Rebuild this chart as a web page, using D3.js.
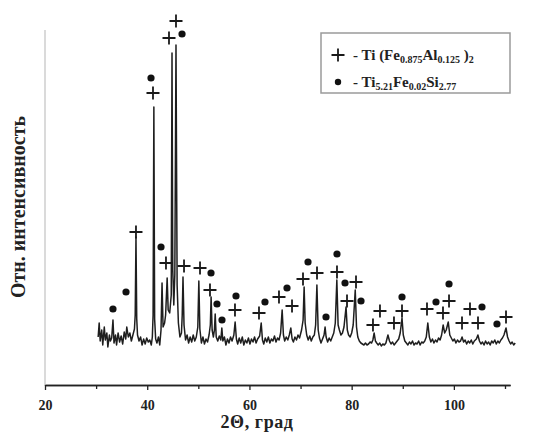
<!DOCTYPE html>
<html><head><meta charset="utf-8">
<script src="https://cdn.jsdelivr.net/npm/d3@7/dist/d3.min.js"></script>
<style>body{margin:0;background:#fff}</style>
</head><body>
<svg id="c" width="534" height="443"></svg>
<script>
// XRD scan: [2θ, intensity (arb. units)]
const scan = [
[30.4,48],[30.6,62],[30.8,44],[31.1,55],[31.3,40],[31.6,58],[31.8,45],[32.1,52],[32.3,38],[32.6,50],[32.8,44],[33.05,47],
[33.3,65],[33.5,42],[33.8,50],[34.0,40],[34.3,52],[34.6,43],[34.9,49],[35.2,41],[35.5,53],[35.8,46],[36.0,58],[36.3,48],
[36.6,52],[36.9,44],[37.2,50],[37.5,56],[37.65,70],[37.8,148],[37.95,66],[38.1,50],[38.4,44],[38.7,48],[39.0,40],[39.3,46],
[39.6,41],[39.9,47],[40.2,43],[40.5,45],[40.8,40],[41.0,48],[41.15,70],[41.3,278],[41.45,66],[41.65,46],[41.9,42],[42.2,48],
[42.45,40],[42.7,55],[42.9,102],[43.1,58],[43.4,62],[43.6,70],[43.9,107],[44.1,75],[44.4,72],[44.7,90],[44.85,332],[45.0,115],
[45.2,80],[45.4,110],[45.63,340],[45.85,100],[46.1,62],[46.4,48],[46.7,52],[46.85,70],[47.0,108],[47.2,60],[47.5,45],[47.8,50],
[48.1,42],[48.4,48],[48.7,43],[49.0,50],[49.3,44],[49.6,48],[49.9,58],[50.1,104],[50.3,56],[50.6,42],[50.9,48],[51.2,41],
[51.5,46],[51.8,43],[52.1,50],[52.35,60],[52.5,88],[52.7,55],[52.95,48],[53.15,55],[53.3,71],[53.5,48],[53.8,44],[54.1,49],
[54.4,45],[54.6,57],[54.8,44],[55.1,48],[55.4,40],[55.7,46],[56.0,42],[56.3,48],[56.6,44],[56.95,50],[57.2,63],[57.45,46],
[57.7,41],[58.0,47],[58.3,42],[58.6,48],[58.9,40],[59.2,45],[59.5,42],[59.8,47],[60.1,41],[60.4,46],[60.7,43],[61.0,48],
[61.3,42],[61.6,46],[62.0,49],[62.3,62],[62.55,45],[62.8,41],[63.1,47],[63.4,43],[63.7,48],[64.0,42],[64.3,46],[64.6,44],
[64.9,49],[65.2,43],[65.5,47],[65.8,45],[66.1,52],[66.4,75],[66.65,50],[66.9,44],[67.2,48],[67.5,45],[67.8,50],[68.1,57],
[68.35,46],[68.6,43],[68.9,48],[69.2,45],[69.5,50],[69.8,47],[70.2,55],[70.5,65],[70.7,98],[70.9,62],[71.2,50],[71.5,45],
[71.8,49],[72.1,44],[72.4,48],[72.7,50],[72.95,60],[73.2,100],[73.45,55],[73.7,47],[74.0,42],[74.3,46],[74.6,50],[74.8,58],
[75.0,48],[75.3,43],[75.6,47],[75.9,44],[76.2,48],[76.5,52],[76.8,62],[77.1,105],[77.35,60],[77.6,55],[77.9,50],[78.2,52],
[78.5,58],[78.9,78],[79.15,55],[79.4,50],[79.7,48],[80.0,52],[80.3,60],[80.7,95],[80.95,58],[81.2,48],[81.5,44],[81.8,42],
[82.1,41],[82.4,40],[82.7,42],[83.0,40],[83.3,41],[83.6,43],[83.9,42],[84.15,45],[84.4,52],[84.65,44],[84.9,42],[85.2,40],
[85.5,42],[85.8,39],[86.1,41],[86.4,40],[86.7,42],[87.1,50],[87.4,44],[87.7,41],[88.0,43],[88.3,40],[88.6,42],[88.9,44],
[89.2,46],[89.5,52],[89.85,67],[90.1,50],[90.4,44],[90.7,42],[91.0,40],[91.3,43],[91.6,41],[91.9,44],[92.2,40],[92.5,42],
[92.8,41],[93.1,44],[93.4,40],[93.7,43],[94.0,42],[94.3,44],[94.6,48],[94.9,62],[95.2,48],[95.5,43],[95.8,46],[96.1,42],
[96.4,45],[96.7,43],[97.0,47],[97.3,45],[97.6,50],[97.9,60],[98.2,52],[98.5,55],[98.9,63],[99.2,50],[99.5,47],[99.8,44],
[100.1,46],[100.4,42],[100.7,45],[101.0,43],[101.3,44],[101.6,48],[101.9,43],[102.2,45],[102.5,41],[102.8,44],[103.1,42],
[103.4,45],[103.7,41],[104.0,44],[104.4,46],[104.7,50],[105.0,44],[105.3,41],[105.6,43],[105.9,40],[106.2,44],[106.5,41],
[106.8,43],[107.1,40],[107.4,44],[107.7,42],[108.0,45],[108.3,41],[108.6,44],[108.9,42],[109.2,45],[109.5,47],[109.8,50],
[110.2,57],[110.5,48],[110.8,44],[111.1,41],[111.4,43],[111.7,40],[112.0,42]
];
// phase markers: Ti(Fe0.875Al0.125)2 (+) and Ti5.21Fe0.02Si2.77 (•)
const plusMarks = [
[37.80,153],[41.13,292],[43.67,122],[44.26,347],[45.63,364],[47.20,119],[50.33,117],[52.28,95],[57.17,75],[61.87,72],
[65.78,88],[68.33,79],[70.48,106],[73.22,112],[77.13,113],[79.09,84],[80.85,103],[84.17,60],[85.54,74],[88.28,62],
[89.85,74],[94.74,76],[97.87,72],[99.05,84],[101.59,62],[103.15,76],[104.72,62],[110.20,68]
];
const dotMarks = [
[33.30,76],[35.85,93],[40.74,307],[46.81,351],[42.70,138],[52.48,112],[53.65,81],[54.63,65],[57.37,89],[63.04,83],
[67.35,97],[71.46,123],[74.98,68],[77.13,131],[78.70,102],[81.83,84],[89.85,88],[96.50,83],[99.05,101],[105.50,78],[108.43,61]
];
const xMajor = [20,40,60,80,100];
const xMinor = [30,50,70,90,110];
const xTitle = "2Θ, град";
const yTitle = "Отн. интенсивность";
const legendItems = [
  {sym:"plus", parts:[["- Ti (Fe",0],["0.875",1],["Al",0],["0.125",1],[" )",0],["2",1]]},
  {sym:"dot", parts:[["- Ti",0],["5.21",1],["Fe",0],["0.02",1],["Si",0],["2.77",1]]}
];

const FONT = "'Liberation Serif','Times New Roman',serif";
const svg = d3.select("#c");
const x = d3.scaleLinear().domain([20,111]).range([45,510.1]);
const y = d3.scaleLinear().domain([0,360]).range([385,25]);

// faint y axis line
svg.append("line").attr("x1",x(20)).attr("x2",x(20)).attr("y1",y(355)).attr("y2",y(0)+1)
  .attr("stroke","#b5b5b5").attr("stroke-width",1);

// scan line
svg.append("path").datum(scan)
  .attr("d", d3.line().x(d=>x(d[0])).y(d=>y(d[1])))
  .attr("fill","none").attr("stroke","#1e1e1e").attr("stroke-width",1.5).attr("stroke-linejoin","round");

// x axis
const gMin = svg.append("g").attr("transform",`translate(0,${y(0)})`)
  .call(d3.axisBottom(x).tickValues(xMinor).tickSize(4).tickSizeOuter(0).tickFormat(""));
const gMaj = svg.append("g").attr("transform",`translate(0,${y(0)})`)
  .call(d3.axisBottom(x).tickValues(xMajor).tickSize(5).tickSizeOuter(0).tickPadding(10));
[gMin,gMaj].forEach(g=>{
  g.select(".domain").attr("stroke","#222").attr("stroke-width",1.6);
  g.selectAll(".tick line").attr("stroke","#222").attr("stroke-width",1.3);
});
gMaj.selectAll(".tick text").attr("font-family",FONT).attr("font-weight","bold")
  .attr("font-size",14).attr("fill","#222");

svg.append("text").attr("x",257).attr("y",428).attr("text-anchor","middle")
  .attr("font-family",FONT).attr("font-weight","bold").attr("font-size",18).attr("letter-spacing",0.6)
  .attr("fill","#222").text(xTitle);
svg.append("text").attr("transform","translate(25,207) rotate(-90)").attr("text-anchor","middle")
  .attr("font-family",FONT).attr("font-weight","bold").attr("font-size",20).attr("fill","#222").text(yTitle);

// markers
function plus(sel, s){
  sel.append("path").attr("d",`M${-s},0H${s}M0,${-s}V${s}`).attr("stroke","#1a1a1a").attr("stroke-width",1.8).attr("fill","none");
}
svg.selectAll("g.pm").data(plusMarks).join("g").attr("class","pm")
  .attr("transform",d=>`translate(${x(d[0])},${y(d[1])})`).each(function(){plus(d3.select(this),6.5);});
svg.selectAll("circle.dm").data(dotMarks).join("circle").attr("class","dm")
  .attr("cx",d=>x(d[0])).attr("cy",d=>y(d[1])).attr("r",3.6).attr("fill","#111");

// legend
const lg = svg.append("g");
lg.append("rect").attr("x",321).attr("y",33).attr("width",189).attr("height",60)
  .attr("fill","#fff").attr("stroke","#9a9a9a").attr("stroke-width",1.5);
legendItems.forEach((it,i)=>{
  const cy = 55 + i*27;
  if(it.sym==="plus"){ const g=lg.append("g").attr("transform",`translate(338,${cy})`); plus(g,6.5); }
  else lg.append("circle").attr("cx",338).attr("cy",cy).attr("r",3.2).attr("fill","#111");
  const t = lg.append("text").attr("x",353).attr("y",cy+5).attr("font-family",FONT)
    .attr("font-weight","bold").attr("font-size",15).attr("fill","#222");
  let prev = 0;
  it.parts.forEach(p=>{
    const sub = p[1];
    const dy = (sub?3:0) - (prev?3:0);
    t.append("tspan").attr("dy",dy).attr("font-size",sub?10:15).text(p[0]);
    prev = sub;
  });
});
</script>
</body></html>
